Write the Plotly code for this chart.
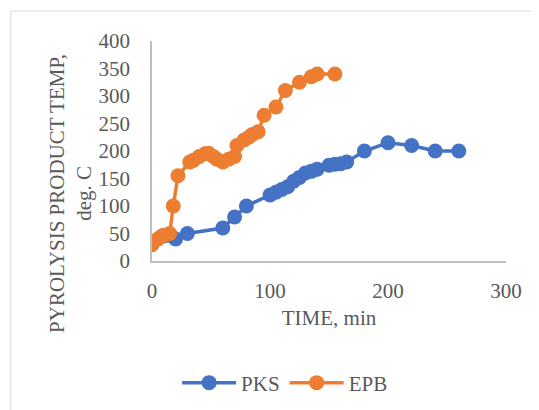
import plotly.graph_objects as go

pks_time = [0, 20, 30, 60, 70, 80, 100, 105, 110, 115, 120, 125, 130, 135, 140, 150, 155, 160, 165, 180, 200, 220, 240, 260]
pks_temp = [30, 40, 50, 60, 80, 100, 120, 125, 130, 135, 145, 152, 160, 163, 167, 174, 176, 177, 180, 200, 215, 210, 200, 200]

epb_time = [0, 5, 8, 10, 15, 18, 22, 32, 35, 40, 45, 48, 52, 55, 60, 65, 70, 72, 78, 82, 85, 90, 95, 105, 113, 125, 135, 140, 155]
epb_temp = [30, 40, 45, 47, 50, 100, 155, 180, 183, 190, 195, 196, 190, 185, 180, 185, 190, 210, 220, 225, 230, 235, 265, 280, 310, 325, 335, 340, 340]

x_ticks = [0, 100, 200, 300]
y_ticks = [0, 50, 100, 150, 200, 250, 300, 350, 400]

FONT = "Liberation Serif"
GREY = "#595959"
FS = 21

# page body has an 8px default margin: compensate so the window shows the chart as intended
OFF = 8
W, H = 539 - OFF, 410 - OFF
PL, PR, PT, PB = 152, 505.7, 41, 261  # plot area edges in window pixels
L, R, T, B = PL - OFF, 539 - PR, PT - OFF, 410 - PB
pw, ph = PR - PL, PB - PT

def px(x):
    return (x - PL) / pw

def py(y):
    return (PB - y) / ph

fig = go.Figure()
fig.add_trace(go.Scatter(x=pks_time, y=pks_temp, name="PKS", mode="lines+markers",
                         line=dict(color="#4472C4", width=3.5),
                         marker=dict(color="#4472C4", size=15)))
fig.add_trace(go.Scatter(x=epb_time, y=epb_temp, name="EPB", mode="lines+markers",
                         line=dict(color="#ED7D31", width=3.5),
                         marker=dict(color="#ED7D31", size=15)))

fig.update_layout(
    width=W, height=H,
    margin=dict(l=L, r=R, t=T, b=B, autoexpand=False),
    paper_bgcolor="white", plot_bgcolor="white",
    font=dict(family=FONT, size=FS, color=GREY),
    showlegend=True,
    legend=dict(orientation="h", x=px(285), xanchor="center", y=py(383), yanchor="middle",
                font=dict(size=FS, color=GREY), itemwidth=54, bgcolor="rgba(0,0,0,0)"),
    xaxis=dict(range=[0, 300], tickvals=x_ticks, showgrid=False, zeroline=False,
               showline=True, linecolor="#bfbfbf", linewidth=1.5, ticks="",
               ticklabelstandoff=10, automargin=False,
               title=dict(text="TIME, min", font=dict(size=FS, color=GREY), standoff=8)),
    yaxis=dict(range=[0, 400], tickvals=y_ticks, showgrid=False, zeroline=False,
               showline=True, linecolor="#bfbfbf", linewidth=1.5, ticks="",
               ticklabelstandoff=16, automargin=False),
    shapes=[dict(type="rect", xref="paper", yref="paper",
                 x0=px(11), x1=px(560), y0=py(11), y1=py(430),
                 line=dict(color="#d9d9d9", width=1), fillcolor="rgba(0,0,0,0)", layer="below")],
    annotations=[dict(text="PYROLYSIS PRODUCT TEMP,<br>deg. C", textangle=-90,
                      xref="paper", yref="paper", x=px(70), y=py(193),
                      showarrow=False, font=dict(size=FS, color=GREY, family=FONT),
                      xanchor="center", yanchor="middle")],
)

fig.write_html("out.html")
